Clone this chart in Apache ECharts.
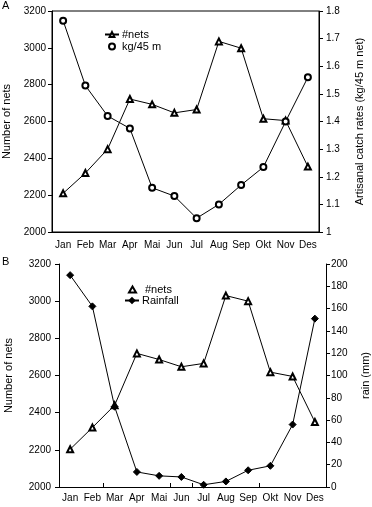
<!DOCTYPE html>
<html><head><meta charset="utf-8">
<script src="https://cdn.jsdelivr.net/npm/echarts@6/dist/echarts.min.js"></script>
<style>html,body{margin:0;padding:0;background:#fff}#c{width:372px;height:507px}</style>
</head><body><div id="c"></div>
<script>
const months = ['Jan','Feb','Mar','Apr','Mai','Jun','Jul','Aug','Sep','Okt','Nov','Des'];
const netsA = [2210, 2320, 2450, 2722, 2693, 2647, 2665, 3035, 2998, 2615, 2605, 2355];
const catchRate = [1.765, 1.53, 1.42, 1.375, 1.16, 1.13, 1.05, 1.10, 1.17, 1.235, 1.40, 1.56];
const netsB = [2203, 2320, 2440, 2719, 2686, 2647, 2665, 3030, 3000, 2618, 2595, 2350];
const rainfall = [190, 162, 72, 13.5, 10, 9, 2, 5, 15, 19, 56, 151];

const FONT = 'Liberation Sans, Arial, sans-serif';
const txt = {color:'#000', fontFamily: FONT, fontSize: 10};
const black = '#000';

function yLeft(gridIndex, margin, gap){
  return {gridIndex, type:'value', min:2000, max:3200, interval:200, position:'left',
    name:'Number of nets', nameLocation:'middle', nameRotate:90, nameGap:gap,
    nameTextStyle:{...txt, fontSize:11},
    axisLine:{show:true, lineStyle:{color:black}},
    axisTick:{show:true, length:4, lineStyle:{color:black}},
    axisLabel:{...txt, margin, formatter:(v)=>String(v)},
    splitLine:{show:false}};
}

const sym = {color:'#000', borderColor:'#000', borderWidth:1};
const legText = {...txt, fontSize:11, lineHeight:11, padding:[0,0,0,-2]};

const option = {
  animation:false,
  backgroundColor:'#fff',
  textStyle:{fontFamily: FONT},
  graphic:[
    {type:'text', left:2, top:0, style:{text:'A', font:'11px '+FONT, fill:'#000'}},
    {type:'text', left:2, top:256, style:{text:'B', font:'11px '+FONT, fill:'#000'}}
  ],
  grid:[
    {left:52, top:11, width:267, height:221, outerBoundsMode:'none', containLabel:false,
      show:true, borderColor:'#000', borderWidth:1, backgroundColor:'transparent'},
    {left:59, top:264, width:267, height:223, outerBoundsMode:'none', containLabel:false}
  ],
  xAxis:[
    {gridIndex:0, type:'category', data:months, boundaryGap:true,
      axisLine:{lineStyle:{color:black}},
      axisTick:{show:true, inside:true, length:4, interval:(i)=>i===7, lineStyle:{color:black}},
      axisLabel:{...txt, margin:8, interval:0}},
    {gridIndex:1, type:'category', data:months, boundaryGap:true,
      axisLine:{lineStyle:{color:black}},
      axisTick:{show:true, inside:true, length:4, interval:(i)=>[2,5,6,9].includes(i), lineStyle:{color:black}},
      axisLabel:{...txt, margin:6, interval:0}}
  ],
  yAxis:[
    yLeft(0, 6, 35),
    {gridIndex:0, type:'value', min:1, max:1.8, interval:0.1, position:'right',
      name:'Artisanal catch rates (kg/45 m net)', nameLocation:'middle', nameRotate:90, nameGap:35,
      nameTextStyle:{...txt, fontSize:11},
      axisLine:{show:true, lineStyle:{color:black}},
      axisTick:{show:true, length:4, lineStyle:{color:black}},
      axisLabel:{...txt, margin:7, formatter:(v)=>String(Math.round(v*10)/10)},
      splitLine:{show:false}},
    yLeft(1, 8, 45),
    {gridIndex:1, type:'value', min:0, max:200, interval:20, position:'right',
      name:'rain (mm)', nameLocation:'middle', nameRotate:90, nameGap:34,
      nameTextStyle:{...txt, fontSize:11},
      axisLine:{show:true, lineStyle:{color:black}},
      axisTick:{show:true, length:4, lineStyle:{color:black}},
      axisLabel:{...txt, margin:5},
      splitLine:{show:false}},
  ],
  legend:[
    {left:104, top:29, orient:'vertical', itemGap:1, itemWidth:14, itemHeight:6, padding:0,
      textStyle:legText,
      data:[{name:'#nets'},{name:'kg/45 m', icon:'emptyCircle', itemStyle:{...sym}}]},
    {left:128, top:284, orient:'vertical', itemGap:0, itemWidth:7, itemHeight:6, padding:0,
      textStyle:{...legText, padding:[0,0,0,4]},
      data:[{name:'#nets ', icon:'emptyTriangle', itemStyle:{...sym}}]},
    {left:124, top:295, orient:'vertical', itemGap:0, itemWidth:14, itemHeight:6, padding:0,
      textStyle:legText,
      data:[{name:'Rainfall'}]}
  ],
  series:[
    {name:'#nets', type:'line', xAxisIndex:0, yAxisIndex:0, data:netsA,
      symbol:'emptyTriangle', symbolSize:6, lineStyle:{color:'#000', width:1}, itemStyle:{...sym}},
    {name:'kg/45 m', type:'line', xAxisIndex:0, yAxisIndex:1, data:catchRate,
      symbol:'emptyCircle', symbolSize:6, lineStyle:{color:'#000', width:1}, itemStyle:{...sym}},
    {name:'#nets ', type:'line', xAxisIndex:1, yAxisIndex:2, data:netsB,
      symbol:'emptyTriangle', symbolSize:6, lineStyle:{color:'#000', width:1}, itemStyle:{...sym}},
    {name:'Rainfall', type:'line', xAxisIndex:1, yAxisIndex:3, data:rainfall,
      symbol:'diamond', symbolSize:7, lineStyle:{color:'#000', width:1}, itemStyle:{...sym}}
  ]
};
const chart = echarts.init(document.getElementById('c'), null, {renderer:'canvas'});
chart.setOption(option);
</script></body></html>
